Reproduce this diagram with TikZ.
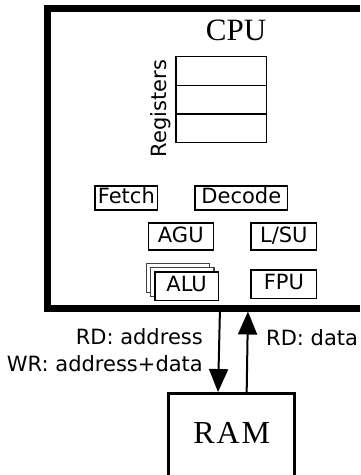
\documentclass[tikz,border=0pt]{standalone}
\usepackage{fontspec}
\setmainfont{Liberation Serif}
\setsansfont{DejaVu Sans}
\newfontfamily\ramserif[LetterSpace=6]{Liberation Serif}
\usetikzlibrary{arrows.meta,shadows}
\begin{document}
\begin{tikzpicture}[x=1pt,y=-1pt,
  unitbox/.style={draw, line width=1.3pt, inner sep=0pt, text height=16pt, text depth=5pt,
    font=\sffamily\fontsize{21}{25}\selectfont},
  regbox/.style={draw, line width=1.3pt, inner sep=0pt, minimum width=90.5pt, minimum height=28.6pt},
  lbl/.style={inner sep=0pt, font=\sffamily\fontsize{21}{26.7}\selectfont},
  big/.style={inner sep=0pt, font=\fontsize{31}{36}\selectfont},
  cpuframe/.style={line width=7pt},
  ramframe/.style={line width=2.5pt},
  arr/.style={line width=2pt, -{Triangle[length=23pt,width=19pt]}}]
\useasboundingbox (0,0) rectangle (360,475);
\coordinate (pageright) at (360,0);
\coordinate (pagebottom) at (0,475);
% CPU frame (right side runs past the picture)
\node[minimum width=323pt, minimum height=299.5pt, inner sep=0pt, outer sep=0pt] (cpu) at (208.5,158.25) {};
\draw[cpuframe] (cpu.north west -| pageright) -- (cpu.north west) -- (cpu.south west) -- (cpu.south west -| pageright);
\node[big] (cputitle) at (236,30) {CPU};
% registers
\node[regbox] (r1) at (221.25,71) {};
\node[regbox] (r2) at (221.25,99.6) {};
\node[regbox] (r3) at (221.25,128.2) {};
\node[lbl, rotate=90] (reglbl) at (160.5,108.5) {Registers};
% units
\node[unitbox, minimum width=62.7pt, minimum height=24pt] (fetch) at (126.35,198) {Fetch};
\node[unitbox, minimum width=92.7pt, minimum height=24pt] (decode) at (241.35,198) {Decode};
\node[unitbox, minimum width=65pt, minimum height=27pt] (agu) at (180.8,236.5) {AGU};
\node[unitbox, minimum width=65.7pt, minimum height=27pt] (lsu) at (283.85,236.5) {L/SU};
\node[unitbox, minimum width=63.3pt, minimum height=28.7pt, fill=white,
  double copy shadow={shadow xshift=-4.3pt, shadow yshift=4.2pt, draw=black!75}] (alu) at (186.65,286.35) {ALU};
\node[unitbox, minimum width=65.7pt, minimum height=28.3pt] (fpu) at (283.85,284.15) {FPU};
% RAM (bottom runs past the picture)
\node[minimum width=126pt, inner sep=0pt, outer sep=0pt, anchor=north,
  text height=50pt, text depth=90pt, font=\ramserif\fontsize{32}{36}\selectfont] (ram) at (231.65,393.3) {RAM};
\draw[ramframe] (ram.west |- pagebottom) -- (ram.north west) -- (ram.north east) -- (ram.east |- pagebottom);
% connectors
\draw[arr, shorten >=1.25pt] ([xshift=11.5pt]cpu.south) -- ([xshift=-13.65pt]ram.north);
\draw[arr, shorten >=3.5pt] ([xshift=15pt]ram.north) -- ([xshift=39.5pt]cpu.south);
\node[lbl, align=right, anchor=east] (lbldown) at (203,350.3) {RD: address\\WR: address+data};
\node[lbl, anchor=base west] (lblup) at (266,345) {RD: data};
\end{tikzpicture}
\end{document}
